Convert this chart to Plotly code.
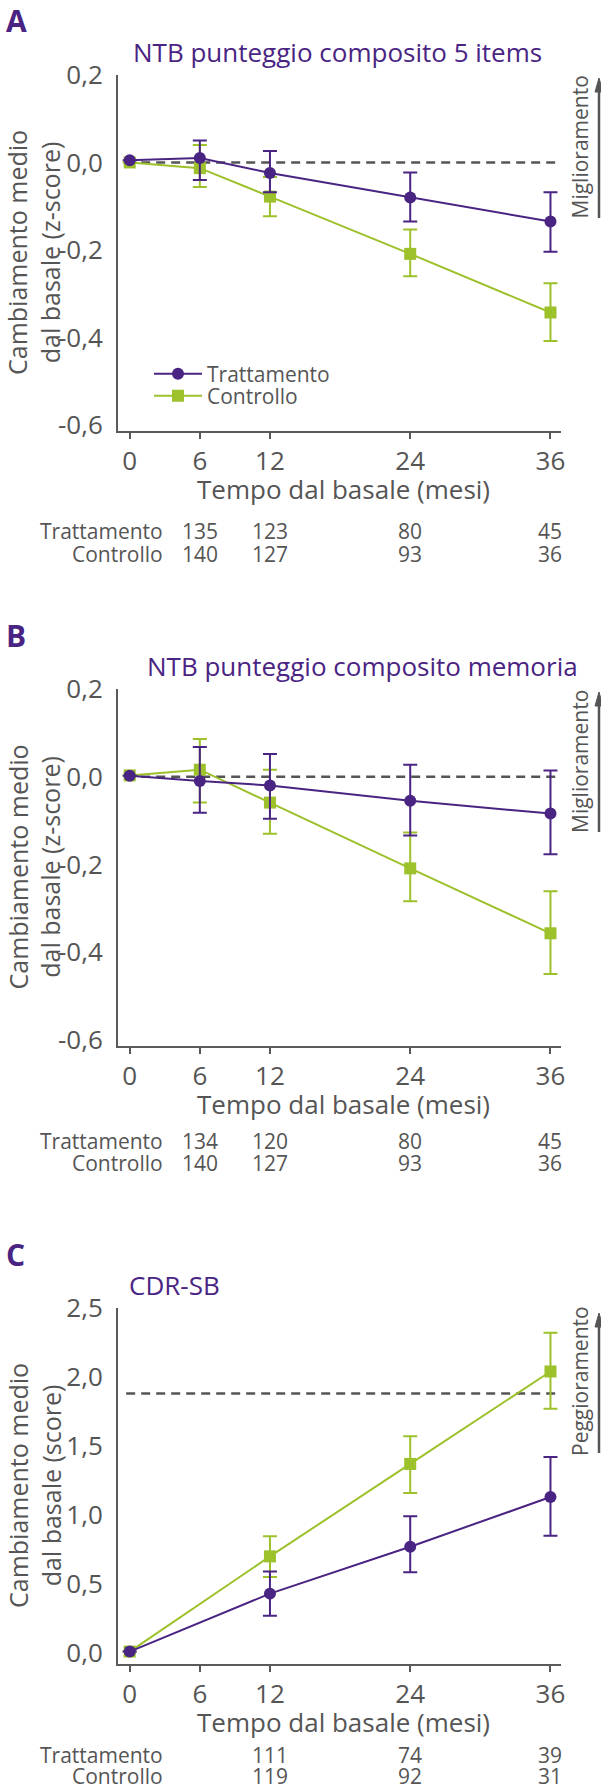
import plotly.graph_objects as go

# ---------------- data ----------------
months = [0, 6, 12, 24, 36]
months_c = [0, 12, 24, 36]

# Panel A: NTB punteggio composito 5 items
a_trt = [0.005, 0.01, -0.024, -0.080, -0.135]
a_trt_hi = [0.005, 0.05, 0.026, -0.023, -0.068]
a_trt_lo = [0.005, -0.04, -0.068, -0.135, -0.204]
a_ctl = [0.0, -0.013, -0.078, -0.209, -0.343]
a_ctl_hi = [0.0, 0.04, -0.033, -0.153, -0.276]
a_ctl_lo = [0.0, -0.056, -0.123, -0.260, -0.408]

# Panel B: NTB punteggio composito memoria
b_trt = [0.002, -0.01, -0.02, -0.055, -0.084]
b_trt_hi = [0.002, 0.068, 0.052, 0.027, 0.014]
b_trt_lo = [0.002, -0.082, -0.096, -0.134, -0.177]
b_ctl = [0.003, 0.016, -0.059, -0.209, -0.357]
b_ctl_hi = [0.003, 0.086, 0.016, -0.127, -0.261]
b_ctl_lo = [0.003, -0.059, -0.130, -0.284, -0.450]

# Panel C: CDR-SB
c_trt = [0.01, 0.43, 0.77, 1.13]
c_trt_hi = [0.01, 0.59, 0.99, 1.42]
c_trt_lo = [0.01, 0.27, 0.585, 0.85]
c_ctl = [0.01, 0.70, 1.37, 2.04]
c_ctl_hi = [0.01, 0.845, 1.57, 2.32]
c_ctl_lo = [0.01, 0.55, 1.16, 1.77]

# reference lines
ref_ab = 0.0
ref_c = 1.88

# tick labels
x_ticks = [0, 6, 12, 24, 36]
x_ticktext = ["0", "6", "12", "24", "36"]
y_ticks_ab = [-0.6, -0.4, -0.2, 0.0, 0.2]
y_ticktext_ab = ["-0,6", "-0,4", "-0,2", "0,0", "0,2"]
y_ticks_c = [0.0, 0.5, 1.0, 1.5, 2.0, 2.5]
y_ticktext_c = ["0,0", "0,5", "1,0", "1,5", "2,0", "2,5"]

# numbers at risk
n_months_ab = [6, 12, 24, 36]
n_months_c = [12, 24, 36]
a_n_trt = ["135", "123", "80", "45"]
a_n_ctl = ["140", "127", "93", "36"]
b_n_trt = ["134", "120", "80", "45"]
b_n_ctl = ["140", "127", "93", "36"]
c_n_trt = ["111", "74", "39"]
c_n_ctl = ["119", "92", "31"]

series_names = ["Trattamento", "Controllo"]
titles = ["NTB punteggio composito 5 items", "NTB punteggio composito memoria", "CDR-SB"]
letters = ["A", "B", "C"]
y_titles = ["Cambiamento medio<br>dal basale (z-score)",
            "Cambiamento medio<br>dal basale (z-score)",
            "Cambiamento medio<br>dal basale (score)"]
x_title = "Tempo dal basale (mesi)"
side_labels = ["Miglioramento", "Miglioramento", "Peggioramento"]

# ---------------- style ----------------
W, H = 601, 1791
PURPLE = "#4a2483"
GREEN = "#9cc12b"
GRAY = "#555555"
AXIS = "#5a5a5a"
FONT = "Open Sans"
F_TICK = 26
F_TITLE = 26
F_XT = 26
F_YT = 25
F_SMALL = 21


def px(p):
    return p / W


def py(p):
    return 1 - p / H


panels = [
    dict(top=75, bot=431, letter_y=21, title_y=52, xt_y=489, n1=531, n2=554,
         side=(75, 220), arrow=(78, 218)),
    dict(top=689, bot=1046, letter_y=635, title_y=666, xt_y=1104, n1=1141, n2=1163,
         side=(690, 834), arrow=(692, 832)),
    dict(top=1308, bot=1664, letter_y=1254, title_y=1285, xt_y=1722, n1=1755, n2=1776,
         side=(1305, 1457), arrow=(1313, 1453)),
]
X_LEFT, X_RIGHT = 118, 561
ARROW_X = 599

fig = go.Figure()

data_sets = [
    (months, a_trt, a_trt_hi, a_trt_lo, a_ctl, a_ctl_hi, a_ctl_lo),
    (months, b_trt, b_trt_hi, b_trt_lo, b_ctl, b_ctl_hi, b_ctl_lo),
    (months_c, c_trt, c_trt_hi, c_trt_lo, c_ctl, c_ctl_hi, c_ctl_lo),
]

for i, (xs, t, th, tl, c, ch, cl) in enumerate(data_sets):
    xa = "x" if i == 0 else f"x{i+1}"
    ya = "y" if i == 0 else f"y{i+1}"
    fig.add_trace(go.Scatter(
        x=xs, y=c, mode="lines+markers", name=series_names[1],
        xaxis=xa, yaxis=ya, showlegend=(i == 0), legend="legend2",
        line=dict(color=GREEN, width=2),
        marker=dict(symbol="square", size=12, color=GREEN),
        error_y=dict(type="data", symmetric=False,
                     array=[h - v for h, v in zip(ch, c)],
                     arrayminus=[v - l for v, l in zip(c, cl)],
                     color=GREEN, thickness=2, width=7),
    ))
    fig.add_trace(go.Scatter(
        x=xs, y=t, mode="lines+markers", name=series_names[0],
        xaxis=xa, yaxis=ya, showlegend=(i == 0), legend="legend",
        line=dict(color=PURPLE, width=2),
        marker=dict(symbol="circle", size=12, color=PURPLE),
        error_y=dict(type="data", symmetric=False,
                     array=[h - v for h, v in zip(th, t)],
                     arrayminus=[v - l for v, l in zip(t, tl)],
                     color=PURPLE, thickness=2, width=7),
    ))

layout_axes = {}
for i, p in enumerate(panels):
    suffix = "" if i == 0 else str(i + 1)
    dom_y = [py(p["bot"]), py(p["top"])]
    if i < 2:
        yr = [-0.614, 0.2]
        tv, tt = y_ticks_ab, y_ticktext_ab
    else:
        yr = [-0.08, 2.5]
        tv, tt = y_ticks_c, y_ticktext_c
    layout_axes["xaxis" + suffix] = dict(
        domain=[px(X_LEFT), px(X_RIGHT)], range=[-1.0, 36.9], anchor="y" + suffix,
        tickvals=x_ticks, ticktext=x_ticktext, showline=True, linecolor=AXIS, linewidth=2,
        ticks="outside", ticklen=6, tickwidth=2, tickcolor=AXIS, showgrid=False, zeroline=False,
        tickfont=dict(family=FONT, size=F_TICK, color=GRAY), fixedrange=True, automargin=False,
    )
    layout_axes["yaxis" + suffix] = dict(
        domain=dom_y, range=yr, anchor="x" + suffix,
        tickvals=tv, ticktext=tt, showline=True, linecolor=AXIS, linewidth=2,
        ticks="", showgrid=False, zeroline=False, ticklabelstandoff=8,
        tickfont=dict(family=FONT, size=F_TICK, color=GRAY), fixedrange=True, automargin=False,
    )

fig.update_layout(**layout_axes)

shapes = []
annotations = []
for i, p in enumerate(panels):
    suffix = "" if i == 0 else str(i + 1)
    xa = "x" + suffix
    ya = "y" + suffix
    ref = ref_ab if i < 2 else ref_c
    shapes.append(dict(type="line", xref=xa, yref=ya, x0=-0.3, x1=36.8, y0=ref, y1=ref,
                       line=dict(color=GRAY, width=2.5, dash="9px,6px"), layer="below"))
    # direction arrow (shaft + head)
    tip, tail = p["arrow"]
    shapes.append(dict(type="line", xref="paper", yref="paper",
                       x0=px(ARROW_X), x1=px(ARROW_X), y0=py(tail), y1=py(tip + 10),
                       line=dict(color=GRAY, width=2.5)))
    shapes.append(dict(type="path", xref="paper", yref="paper",
                       path=(f"M {px(ARROW_X - 4)} {py(tip + 14)} L {px(ARROW_X)} {py(tip)} "
                             f"L {px(ARROW_X + 4)} {py(tip + 14)} Z"),
                       fillcolor=GRAY, line=dict(color=GRAY, width=1)))
    annotations.append(dict(text=f"<b>{letters[i]}</b>", xref="paper", yref="paper",
                            x=px(4), y=py(p["letter_y"]), xanchor="left", yanchor="middle",
                            showarrow=False, font=dict(family=FONT, size=30, color=PURPLE)))
    if i < 2:
        annotations.append(dict(text=titles[i], xref="paper", yref="paper",
                                x=px(338 if i == 0 else 362), y=py(p["title_y"]),
                                xanchor="center", yanchor="middle", showarrow=False,
                                font=dict(family=FONT, size=F_TITLE, color=PURPLE)))
    else:
        annotations.append(dict(text=titles[i], xref="paper", yref="paper",
                                x=px(127), y=py(p["title_y"]),
                                xanchor="left", yanchor="middle", showarrow=False,
                                font=dict(family=FONT, size=F_TITLE, color=PURPLE)))
    annotations.append(dict(text=y_titles[i], xref="paper", yref="paper",
                            x=px(34), y=py((p["top"] + p["bot"]) / 2),
                            xanchor="center", yanchor="middle", textangle=-90, showarrow=False,
                            font=dict(family=FONT, size=F_YT, color=GRAY)))
    annotations.append(dict(text=x_title, xref="paper", yref="paper",
                            x=px(343), y=py(p["xt_y"]), xanchor="center", yanchor="middle",
                            showarrow=False, borderpad=0,
                            font=dict(family=FONT, size=F_XT, color=GRAY)))
    annotations.append(dict(text=side_labels[i], xref="paper", yref="paper",
                            x=px(580), y=py((p["side"][0] + p["side"][1]) / 2),
                            xanchor="center", yanchor="middle", textangle=-90, showarrow=False,
                            font=dict(family=FONT, size=F_SMALL, color=GRAY)))
    for row_y, lab in ((p["n1"], series_names[0]), (p["n2"], series_names[1])):
        annotations.append(dict(text=lab, xref="paper", yref="paper", x=px(164), y=py(row_y),
                                xanchor="right", yanchor="middle", showarrow=False, borderpad=0,
                                font=dict(family=FONT, size=F_SMALL, color=GRAY)))
    if i == 0:
        nm, r1, r2 = n_months_ab, a_n_trt, a_n_ctl
    elif i == 1:
        nm, r1, r2 = n_months_ab, b_n_trt, b_n_ctl
    else:
        nm, r1, r2 = n_months_c, c_n_trt, c_n_ctl
    for mx, v1, v2 in zip(nm, r1, r2):
        for row_y, v in ((p["n1"], v1), (p["n2"], v2)):
            annotations.append(dict(text=v, xref=xa, yref="paper", x=mx, y=py(row_y),
                                    xanchor="center", yanchor="middle", showarrow=False,
                                    borderpad=0,
                                    font=dict(family=FONT, size=F_SMALL, color=GRAY)))

leg_common = dict(xanchor="left", yanchor="middle", bgcolor="rgba(0,0,0,0)",
                  font=dict(family=FONT, size=F_SMALL, color=GRAY), itemwidth=48)
fig.update_layout(
    width=W, height=H, margin=dict(l=0, r=0, t=0, b=0, pad=0, autoexpand=False),
    paper_bgcolor="white", plot_bgcolor="white",
    font=dict(family=FONT, color=GRAY),
    shapes=shapes, annotations=annotations,
    showlegend=True,
    legend=dict(x=px(149), y=py(374), **leg_common),
    legend2=dict(x=px(149), y=py(396), **leg_common),
)

fig.write_html("out.html", config={"displayModeBar": False},
               post_script="document.body.style.margin='0';document.body.style.overflow='hidden';")
